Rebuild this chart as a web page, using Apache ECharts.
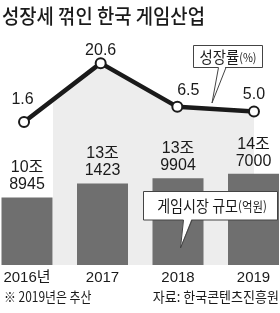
<!DOCTYPE html>
<html><head><meta charset="utf-8">
<script src="https://cdn.jsdelivr.net/npm/echarts@6/dist/echarts.min.js"></script>
<style>html,body{margin:0;padding:0;background:#fff}#c{width:280px;height:313px}</style>
</head><body><div id="c"></div>
<script>
var categories = ['2016년', '2017', '2018', '2019'];
var growthRate = [1.6, 20.6, 6.5, 5.0];           // 성장률(%)
var marketSize = [108945, 131423, 139904, 147000]; // 게임시장 규모(억원)
var titleText = '성장세 꺾인 한국 게임산업';
var noteText = '※ 2019년은 추산';
var sourceText = '자료: 한국콘텐츠진흥원';

var NUM = '"Liberation Sans", "Noto Sans CJK KR", sans-serif';
var KR = '"Noto Sans CJK KR", sans-serif';
var INK = '#1a1a1a';
var chart = echarts.init(document.getElementById('c'), null, {renderer: 'canvas'});

var rateLabelOffsets = [[-1.5, -8], [0, 1], [11, -2], [0, -3]];

chart.setOption({
  animation: false,
  backgroundColor: '#fff',
  grid: [
    {left: -14.3, right: -12.3, top: 34, bottom: 48, outerBoundsMode: 'none', containLabel: false},
    {left: -10.75, right: -11.25, top: 141, bottom: 48, outerBoundsMode: 'none', containLabel: false}
  ],
  xAxis: [
    {gridIndex: 0, type: 'category', data: categories, show: false},
    {gridIndex: 1, type: 'category', data: categories,
     axisLine: {show: false}, axisTick: {show: false},
     axisLabel: {margin: 5, fontSize: 15, color: INK, fontFamily: NUM}}
  ],
  yAxis: [
    {gridIndex: 0, type: 'value', min: -44.5, max: 30, show: false, splitLine: {show: false}},
    {gridIndex: 1, type: 'value', min: 0, max: 200000, show: false, splitLine: {show: false}}
  ],
  series: [
    {
      type: 'bar', xAxisIndex: 1, yAxisIndex: 1, z: 3,
      data: marketSize, barWidth: 51,
      itemStyle: {color: '#6f6f6f'},
      label: {
        show: true, position: 'top', distance: 4,
        fontSize: 16, lineHeight: 17, color: INK, fontFamily: NUM,
        formatter: function (p) {
          return Math.floor(p.value / 10000) + '조\n' + (p.value % 10000);
        }
      }
    },
    {
      type: 'line', xAxisIndex: 0, yAxisIndex: 0, z: 2,
      data: growthRate.map(function (v, i) {
        return {value: v, label: {offset: rateLabelOffsets[i]}};
      }),
      lineStyle: {color: INK, width: 4.5},
      symbol: 'circle', symbolSize: 10,
      itemStyle: {color: '#fff', borderColor: INK, borderWidth: 2},
      areaStyle: {
        origin: 'start', opacity: 1,
        color: {type: 'linear', x: 0, y: 0, x2: 1, y2: 0, colorStops: [
          {offset: 0, color: 'rgba(237,237,237,0)'},
          {offset: 0.124, color: 'rgba(237,237,237,0)'},
          {offset: 0.125, color: '#ededed'},
          {offset: 1, color: '#ededed'}
        ]}
      },
      label: {
        show: true, position: 'top', distance: 0,
        fontSize: 16, lineHeight: 16, color: INK, fontFamily: NUM,
        formatter: function (p) { return p.value.toFixed(1); }
      }
    }
  ],
  graphic: [
    {type: 'text', left: 2, top: 6, z: 100, scaleX: 0.94,
     style: {text: titleText, font: '500 20px ' + KR, fill: INK}},
    // 성장률 callout
    {type: 'rect', z: 100, shape: {x: 193.5, y: 45.5, width: 69, height: 22},
     style: {fill: '#fff', stroke: '#444', lineWidth: 1}},
    {type: 'polygon', z: 101, shape: {points: [[218.5, 66.5], [225.5, 66.5], [212, 102]]},
     style: {fill: '#fff'}},
    {type: 'polyline', z: 102, shape: {points: [[218.5, 67.5], [212, 103], [226, 67.5]]},
     style: {stroke: '#444', lineWidth: 1, fill: null}},
    {type: 'text', z: 103, x: 228, y: 57, scaleX: 0.9,
     style: {text: '{a|성장률}{b|(%)}', align: 'center', textAlign: 'center',
             verticalAlign: 'middle', textVerticalAlign: 'middle',
             rich: {a: {fontSize: 16, fontFamily: KR, fill: INK}, b: {fontSize: 12, fontFamily: KR, fill: INK}}}},
    // 게임시장 규모 callout
    {type: 'rect', z: 100, shape: {x: 143.5, y: 191.5, width: 134, height: 28.5},
     style: {fill: '#fff', stroke: '#444', lineWidth: 1}},
    {type: 'polygon', z: 101, shape: {points: [[183.5, 219], [191.5, 219], [180.5, 247]]},
     style: {fill: '#fff'}},
    {type: 'polyline', z: 102, shape: {points: [[183.5, 220], [180.5, 248], [192, 220]]},
     style: {stroke: '#444', lineWidth: 1, fill: null}},
    {type: 'text', z: 103, x: 212, y: 206, scaleX: 0.88,
     style: {text: '{a|게임시장 규모}{b|(억원)}', align: 'center', textAlign: 'center',
             verticalAlign: 'middle', textVerticalAlign: 'middle',
             rich: {a: {fontSize: 16, fontFamily: KR, fill: INK}, b: {fontSize: 13, fontFamily: KR, fill: INK}}}},
    // footnotes
    {type: 'text', z: 100, x: 4, y: 297, scaleX: 0.85,
     style: {text: noteText, font: '14px ' + KR, fill: INK, verticalAlign: 'middle', textVerticalAlign: 'middle'}},
    {type: 'text', z: 100, x: 279, y: 297, scaleX: 0.93,
     style: {text: sourceText, font: '14px ' + KR, fill: INK, align: 'right', textAlign: 'right',
             verticalAlign: 'middle', textVerticalAlign: 'middle'}}
  ]
});
</script></body></html>
